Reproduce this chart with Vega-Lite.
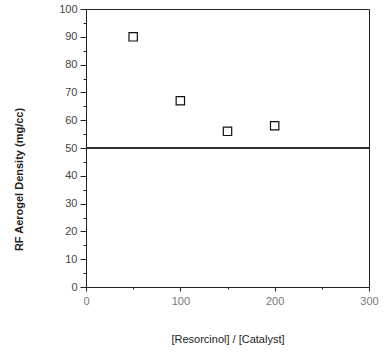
{
  "$schema": "https://vega.github.io/schema/vega-lite/v6.json",
  "width": 283,
  "height": 278,
  "autosize": "none",
  "padding": {"left": 86, "top": 9, "right": 22, "bottom": 65},
  "background": "white",
  "config": {
    "view": {"stroke": "#222", "strokeWidth": 1},
    "font": "Liberation Sans",
    "axis": {
      "domainColor": "#222",
      "tickColor": "#222",
      "labelColor": "#444",
      "labelFontSize": 11,
      "titleFontSize": 11,
      "titleFontWeight": "normal",
      "titleColor": "#222",
      "grid": false
    }
  },
  "data": {
    "values": [
      {"ratio": 50, "density": 90},
      {"ratio": 100, "density": 67},
      {"ratio": 150, "density": 56},
      {"ratio": 200, "density": 58}
    ]
  },
  "layer": [
    {
      "mark": {"type": "point", "shape": "square", "size": 70, "filled": false, "stroke": "#111", "strokeWidth": 1.2, "opacity": 1},
      "encoding": {
        "x": {
          "field": "ratio",
          "type": "quantitative",
          "scale": {"domain": [0, 300], "nice": false},
          "axis": {
            "title": "[Resorcinol] / [Catalyst]",
            "titleY": 46,
            "values": [0, 50, 100, 150, 200, 250, 300],
            "labelExpr": "datum.value % 100 === 0 ? '' + datum.value : ''",
            "tickSize": {"condition": {"test": "datum.value % 100 === 0", "value": 4}, "value": 2},
            "labelPadding": 4,
            "labelColor": "#777",
            "labelOverlap": false,
            "labelFlush": false
          }
        },
        "y": {
          "field": "density",
          "type": "quantitative",
          "scale": {"domain": [0, 100], "nice": false},
          "axis": {
            "title": "RF  Aerogel  Density  (mg/cc)",
            "titleX": -62,
            "titleY": 170,
            "titleFontWeight": 600,
            "values": [0, 5, 10, 15, 20, 25, 30, 35, 40, 45, 50, 55, 60, 65, 70, 75, 80, 85, 90, 95, 100],
            "labelExpr": "datum.value % 10 === 0 ? '' + datum.value : ''",
            "tickSize": {"condition": {"test": "datum.value % 10 === 0", "value": 6}, "value": 3},
            "labelPadding": 3,
            "labelOverlap": false,
            "labelFlush": false
          }
        }
      }
    },
    {
      "mark": {"type": "rule", "color": "#222", "strokeWidth": 1},
      "encoding": {
        "y": {
          "datum": 50,
          "type": "quantitative",
          "scale": {"domain": [0, 100], "nice": false},
          "axis": {
            "title": "RF  Aerogel  Density  (mg/cc)",
            "titleX": -62,
            "titleY": 170,
            "titleFontWeight": 600,
            "values": [0, 5, 10, 15, 20, 25, 30, 35, 40, 45, 50, 55, 60, 65, 70, 75, 80, 85, 90, 95, 100],
            "labelExpr": "datum.value % 10 === 0 ? '' + datum.value : ''",
            "tickSize": {"condition": {"test": "datum.value % 10 === 0", "value": 6}, "value": 3},
            "labelPadding": 3,
            "labelOverlap": false,
            "labelFlush": false
          }
        }
      }
    }
  ]
}
